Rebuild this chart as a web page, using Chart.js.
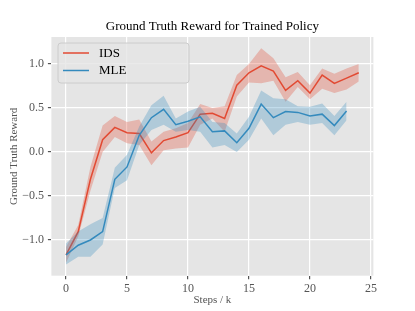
<!DOCTYPE html>
<html>
<head>
<meta charset="utf-8">
<script src="https://cdn.jsdelivr.net/npm/chart.js@4/dist/chart.umd.min.js"></script>
<style>
  html, body { margin: 0; padding: 0; background: #fff; }
  canvas { display: block; }
</style>
</head>
<body>
<canvas id="myChart" width="415" height="311"></canvas>
<script>
const idsSteps = [0, 1, 2, 3, 4, 5, 6, 7, 8, 9, 10, 11, 12, 13, 14, 15, 16, 17, 18, 19, 20, 21, 22, 23, 24];
const idsMean  = [-1.17, -0.905, -0.31, 0.14, 0.28, 0.22, 0.21, -0.01, 0.13, 0.17, 0.22, 0.43, 0.44, 0.38, 0.76, 0.90, 0.98, 0.92, 0.70, 0.81, 0.67, 0.875, 0.78, 0.84, 0.90];
const idsUpper = [-1.08, -0.83, -0.17, 0.30, 0.41, 0.34, 0.37, 0.12, 0.23, 0.27, 0.33, 0.545, 0.50, 0.52, 0.875, 1.0, 1.18, 1.065, 0.85, 0.91, 0.76, 0.95, 0.89, 0.95, 1.0];
const idsLower = [-1.26, -0.96, -0.44, 0.0, 0.17, 0.10, 0.08, -0.15, 0.02, 0.04, 0.05, 0.31, 0.38, 0.23, 0.63, 0.79, 0.78, 0.81, 0.57, 0.74, 0.60, 0.72, 0.67, 0.71, 0.80];

const mleSteps = [0, 1, 2, 3, 4, 5, 6, 7, 8, 9, 10, 11, 12, 13, 14, 15, 16, 17, 18, 19, 20, 21, 22, 23];
const mleMean  = [-1.17, -1.06, -1.0, -0.905, -0.31, -0.17, 0.19, 0.39, 0.485, 0.31, 0.35, 0.40, 0.23, 0.24, 0.105, 0.27, 0.545, 0.39, 0.46, 0.45, 0.41, 0.43, 0.30, 0.465];
const mleUpper = [-1.04, -0.905, -0.82, -0.75, -0.18, -0.03, 0.29, 0.53, 0.64, 0.38, 0.46, 0.515, 0.34, 0.33, 0.21, 0.40, 0.70, 0.61, 0.60, 0.52, 0.515, 0.55, 0.41, 0.57];
const mleLower = [-1.28, -1.19, -1.19, -1.05, -0.41, -0.32, 0.08, 0.25, 0.31, 0.23, 0.25, 0.23, 0.05, 0.08, 0.0, 0.14, 0.38, 0.19, 0.31, 0.34, 0.31, 0.33, 0.19, 0.36];

const xTicks = [0, 5, 10, 15, 20, 25];
const yTicks = [-1.0, -0.5, 0.0, 0.5, 1.0];

const seriesNames = ['IDS', 'MLE'];
const chartTitle = 'Ground Truth Reward for Trained Policy';

const RED = '#E24A33';
const BLUE = '#348ABD';
const SERIF = '"Liberation Serif", "Times New Roman", serif';

function pts(xs, ys) {
    return xs.map((x, i) => ({ x: x, y: ys[i] }));
}

// grey panel behind the grid, title and legend on top
const ggplotBits = {
    id: 'ggplotBits',
    beforeDraw(chart) {
        const a = chart.chartArea;
        const c = chart.ctx;
        c.save();
        c.fillStyle = '#E5E5E5';
        c.fillRect(a.left, a.top, a.right - a.left, a.bottom - a.top);
        c.restore();
    },
    afterDraw(chart) {
        const a = chart.chartArea;
        const c = chart.ctx;
        c.save();
        c.fillStyle = '#000';
        c.font = '13px ' + SERIF;
        c.textAlign = 'center';
        c.textBaseline = 'middle';
        c.fillText(chartTitle, (a.left + a.right) / 2, 27);

        // legend box
        const bx = 58, by = 43, bw = 131, bh = 40, r = 3;
        c.beginPath();
        c.moveTo(bx + r, by);
        c.arcTo(bx + bw, by, bx + bw, by + bh, r);
        c.arcTo(bx + bw, by + bh, bx, by + bh, r);
        c.arcTo(bx, by + bh, bx, by, r);
        c.arcTo(bx, by, bx + bw, by, r);
        c.closePath();
        c.fillStyle = 'rgba(229,229,229,0.8)';
        c.fill();
        c.strokeStyle = '#CCCCCC';
        c.lineWidth = 1;
        c.stroke();

        const colors = [RED, BLUE];
        const rows = [53, 70.5];
        c.font = '13px ' + SERIF;
        c.textAlign = 'left';
        seriesNames.forEach((name, i) => {
            c.strokeStyle = colors[i];
            c.lineWidth = 1.5;
            c.beginPath();
            c.moveTo(63, rows[i]);
            c.lineTo(89, rows[i]);
            c.stroke();
            c.fillStyle = '#000';
            c.fillText(name, 99, rows[i] + 0.5);
        });
        c.restore();
    }
};

const ctx = document.getElementById('myChart').getContext('2d');

const chart = new Chart(ctx, {
    type: 'line',
    data: {
        datasets: [
            {
                label: 'IDS lower',
                data: pts(idsSteps, idsLower),
                borderWidth: 0,
                pointRadius: 0,
                fill: false,
                order: 6
            },
            {
                label: 'IDS upper',
                data: pts(idsSteps, idsUpper),
                borderWidth: 0,
                pointRadius: 0,
                fill: '-1',
                backgroundColor: 'rgba(226,74,51,0.3)',
                order: 5
            },
            {
                label: 'IDS',
                data: pts(idsSteps, idsMean),
                borderColor: RED,
                borderWidth: 1.5,
                pointRadius: 0,
                fill: false,
                order: 4
            },
            {
                label: 'MLE lower',
                data: pts(mleSteps, mleLower),
                borderWidth: 0,
                pointRadius: 0,
                fill: false,
                order: 3
            },
            {
                label: 'MLE upper',
                data: pts(mleSteps, mleUpper),
                borderWidth: 0,
                pointRadius: 0,
                fill: '-1',
                backgroundColor: 'rgba(52,138,189,0.3)',
                order: 2
            },
            {
                label: 'MLE',
                data: pts(mleSteps, mleMean),
                borderColor: BLUE,
                borderWidth: 1.5,
                pointRadius: 0,
                fill: false,
                order: 1
            }
        ]
    },
    options: {
        responsive: false,
        animation: false,
        tension: 0,
        layout: {
            padding: { left: 0.4, right: 41.6, top: 37, bottom: 0 }
        },
        plugins: {
            legend: { display: false },
            tooltip: { enabled: false },
            title: { display: false }
        },
        scales: {
            x: {
                type: 'linear',
                min: -1.2,
                max: 25.2,
                border: { display: false },
                grid: {
                    color: '#FFFFFF',
                    lineWidth: 1.2,
                    tickColor: '#555555',
                    tickLength: 3.5
                },
                ticks: {
                    color: '#555555',
                    padding: 2,
                    font: { family: SERIF, size: 12 }
                },
                title: {
                    display: true,
                    text: 'Steps / k',
                    color: '#555555',
                    font: { family: SERIF, size: 11 },
                    padding: { top: 0, bottom: 4.5 }
                },
                afterBuildTicks: scale => {
                    scale.ticks = xTicks.map(v => ({ value: v }));
                },
                afterFit: scale => {
                    scale.height = 35.3;
                }
            },
            y: {
                type: 'linear',
                min: -1.406,
                max: 1.307,
                border: { display: false },
                grid: {
                    color: '#FFFFFF',
                    lineWidth: 1.2,
                    tickColor: '#555555',
                    tickLength: 3.5
                },
                ticks: {
                    color: '#555555',
                    padding: 4,
                    font: { family: SERIF, size: 12 },
                    callback: v => v.toFixed(1).replace('-', '\u2212')
                },
                title: {
                    display: true,
                    text: 'Ground Truth Reward',
                    color: '#555555',
                    font: { family: SERIF, size: 11 },
                    padding: { top: 6.7, bottom: 0 }
                },
                afterBuildTicks: scale => {
                    scale.ticks = yTicks.map(v => ({ value: v }));
                },
                afterFit: scale => {
                    scale.width = 51;
                }
            }
        }
    },
    plugins: [ggplotBits]
});
</script>
</body>
</html>
